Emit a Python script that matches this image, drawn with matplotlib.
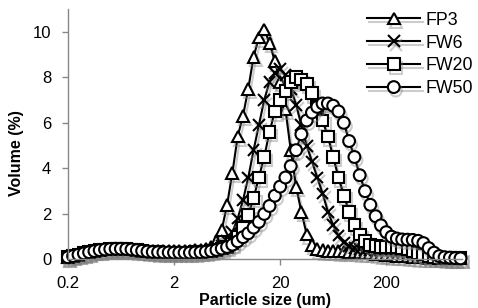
import numpy as np
import matplotlib
matplotlib.use("Agg")
import matplotlib.pyplot as plt
import matplotlib.patheffects as pe
from matplotlib.ticker import FixedLocator, NullLocator

plt.rcParams['font.family'] = ['Liberation Sans', 'DejaVu Sans']

# particle size classes (um)
sizes = [0.200, 0.224, 0.252, 0.283, 0.317, 0.356, 0.399, 0.448, 0.502, 0.564,
         0.632, 0.710, 0.796, 0.893, 1.002, 1.125, 1.262, 1.416, 1.589, 1.783,
         2.000, 2.244, 2.518, 2.825, 3.170, 3.557, 3.991, 4.477, 5.024, 5.637,
         6.325, 7.096, 7.962, 8.934, 10.024, 11.247, 12.619, 14.159, 15.887, 17.825,
         20.000, 22.440, 25.179, 28.251, 31.698, 35.566, 39.905, 44.774, 50.238, 56.368,
         63.246, 70.963, 79.621, 89.337, 100.237, 112.468, 126.191, 141.589, 158.866, 178.250,
         200.000, 224.404, 251.785, 282.508, 316.979, 355.656, 399.052, 447.744, 502.377, 563.677,
         632.456, 709.627, 796.214, 893.367, 1002.374]

# volume (%)
fp3 = [0.10, 0.15, 0.21, 0.27, 0.32, 0.37, 0.41, 0.44, 0.46, 0.47,
       0.47, 0.46, 0.44, 0.42, 0.40, 0.38, 0.37, 0.36, 0.36, 0.36,
       0.36, 0.37, 0.38, 0.39, 0.40, 0.42, 0.45, 0.55, 0.80, 1.30,
       2.40, 3.80, 5.40, 6.30, 7.50, 8.90, 9.75, 10.10, 9.50, 8.70,
       7.80, 6.60, 4.80, 3.20, 2.10, 1.10, 0.65, 0.45, 0.40, 0.38,
       0.37, 0.36, 0.35, 0.34, 0.33, 0.32, 0.30, 0.28, 0.25, 0.22,
       0.20, 0.18, 0.16, 0.15, 0.13, 0.12, 0.10, 0.09, 0.08, 0.07,
       0.06, 0.05, 0.05, 0.05, 0.05]
fw6 = [0.10, 0.15, 0.21, 0.27, 0.32, 0.37, 0.41, 0.44, 0.46, 0.47,
       0.47, 0.46, 0.44, 0.41, 0.38, 0.35, 0.33, 0.32, 0.31, 0.31,
       0.30, 0.30, 0.31, 0.32, 0.33, 0.35, 0.38, 0.43, 0.50, 0.60,
       0.80, 1.20, 1.80, 2.60, 3.60, 4.80, 5.90, 7.00, 7.80, 8.20,
       8.35, 8.10, 7.50, 6.80, 5.90, 5.00, 4.30, 3.60, 2.90, 2.10,
       1.50, 1.05, 0.75, 0.60, 0.50, 0.45, 0.43, 0.42, 0.42, 0.42,
       0.41, 0.40, 0.38, 0.35, 0.30, 0.25, 0.20, 0.15, 0.10, 0.08,
       0.06, 0.05, 0.05, 0.05, 0.05]
fw20 = [0.10, 0.15, 0.21, 0.27, 0.32, 0.37, 0.41, 0.44, 0.46, 0.47,
        0.47, 0.46, 0.44, 0.41, 0.38, 0.35, 0.33, 0.32, 0.31, 0.31,
        0.30, 0.30, 0.30, 0.31, 0.32, 0.33, 0.35, 0.38, 0.42, 0.48,
        0.55, 0.70, 1.00, 1.40, 1.95, 2.70, 3.60, 4.50, 5.60, 6.50,
        7.00, 7.40, 7.80, 8.00, 7.90, 7.70, 7.30, 6.70, 6.10, 5.40,
        4.50, 3.60, 2.80, 2.10, 1.50, 1.10, 0.80, 0.65, 0.58, 0.55,
        0.55, 0.55, 0.54, 0.50, 0.45, 0.38, 0.30, 0.22, 0.15, 0.10,
        0.08, 0.06, 0.05, 0.05, 0.05]
fw50 = [0.10, 0.15, 0.21, 0.27, 0.32, 0.37, 0.41, 0.44, 0.46, 0.47,
        0.47, 0.46, 0.44, 0.41, 0.38, 0.35, 0.33, 0.32, 0.31, 0.31,
        0.30, 0.30, 0.30, 0.30, 0.31, 0.32, 0.34, 0.37, 0.42, 0.48,
        0.55, 0.65, 0.80, 0.98, 1.15, 1.40, 1.65, 2.00, 2.35, 2.80,
        3.20, 3.60, 4.10, 4.80, 5.50, 6.10, 6.45, 6.70, 6.85, 6.85,
        6.75, 6.50, 6.00, 5.20, 4.50, 3.70, 3.00, 2.40, 1.90, 1.50,
        1.20, 1.00, 0.92, 0.88, 0.87, 0.86, 0.82, 0.72, 0.50, 0.30,
        0.15, 0.10, 0.08, 0.06, 0.05]

series = [('FP3', fp3, '^'), ('FW6', fw6, 'x'), ('FW20', fw20, 's'), ('FW50', fw50, 'o')]
x_ticks = [0.2, 2, 20, 200]
x_tick_labels = ['0.2', '2', '20', '200']
y_ticks = [0, 2, 4, 6, 8, 10]

fig = plt.figure(figsize=(4.78, 3.08), dpi=100)
ax = fig.add_axes([0.142, 0.1575, 0.825, 0.8135])

shadow = [pe.SimpleLineShadow(offset=(1.5, -2.5), shadow_color='gray', alpha=0.4),
          pe.Normal()]
for name, vals, mk in series:
    ax.plot(sizes, vals, color='black', linewidth=1.5, marker=mk,
            markersize=8.5, markerfacecolor='white', markeredgecolor='black',
            markeredgewidth=1.5, label=name, clip_on=False, path_effects=shadow)

ax.set_xscale('log')
ax.set_xlim(0.2, 1040)
ax.set_ylim(0, 11)
ax.xaxis.set_major_locator(FixedLocator(x_ticks))
ax.xaxis.set_minor_locator(NullLocator())
ax.set_xticklabels(x_tick_labels)
ax.set_yticks(y_ticks)

for s in ['top', 'right']:
    ax.spines[s].set_visible(False)
for s in ['left', 'bottom']:
    ax.spines[s].set_color('#888888')
    ax.spines[s].set_linewidth(1.0)
ax.tick_params(axis='both', colors='#888888', labelcolor='black', labelsize=12,
               length=4, width=1.0)
ax.tick_params(axis='y', pad=8)
ax.tick_params(axis='x', pad=8)

ax.set_xlabel('Particle size (um)', fontsize=11.5, fontweight='bold')
ax.set_ylabel('Volume (%)', fontsize=11.5, fontweight='bold')
ax.xaxis.set_label_coords(0.5, -0.135)
ax.yaxis.set_label_coords(-0.112, 0.425)

fig.legend(loc='upper left', bbox_to_anchor=(0.768, 0.962), frameon=False,
           fontsize=12.8, handlelength=3.0, handletextpad=0.3, labelspacing=0.33,
           borderpad=0, borderaxespad=0, numpoints=1)

fig.savefig('out.png', dpi=100)
